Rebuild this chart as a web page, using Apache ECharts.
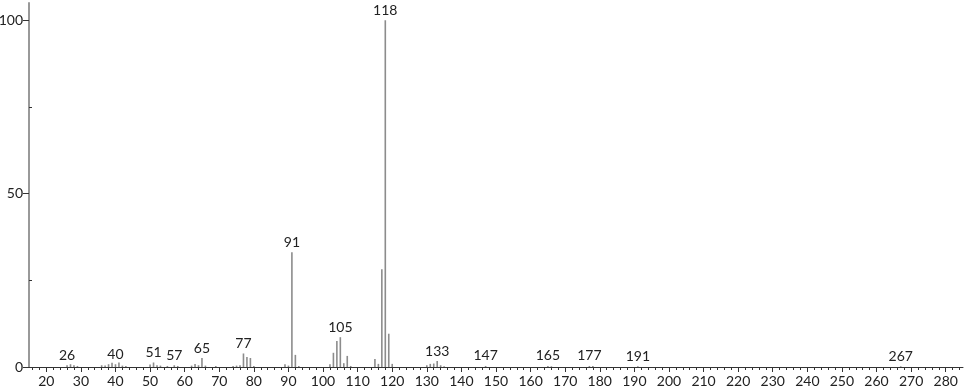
<!DOCTYPE html>
<html>
<head>
<meta charset="utf-8">
<script src="https://cdn.jsdelivr.net/npm/echarts@6/dist/echarts.min.js"></script>
<style>html,body{margin:0;padding:0;background:#fff}#c{width:966px;height:389px}</style>
</head>
<body>
<div id="c"></div>
<script>
// m/z values and relative intensities
const masses = [26, 27, 28, 29, 36, 37, 38, 39, 40, 41, 42, 43, 50, 51, 52, 53, 55, 57, 58, 62, 63, 64, 65, 66, 69, 74, 75, 76, 77, 78, 79, 80, 89, 90, 91, 92, 93, 102, 103, 104, 105, 106, 107, 108, 115, 116, 117, 118, 119, 120, 130, 131, 132, 133, 134, 135, 147, 165, 166, 177, 178, 191, 267];
const intensities = [0.5, 0.8, 0.5, 0.3, 0.5, 0.4, 0.8, 1.2, 0.8, 1.3, 0.4, 0.3, 0.7, 1.3, 0.5, 0.4, 0.3, 0.5, 0.3, 0.4, 0.9, 0.5, 2.6, 0.4, 0.3, 0.3, 0.4, 0.5, 3.9, 2.9, 2.6, 0.3, 0.8, 0.4, 33.1, 3.5, 0.3, 0.8, 4.1, 7.5, 8.6, 1.1, 3.2, 0.3, 2.3, 0.9, 28.2, 100, 9.6, 0.9, 0.5, 0.9, 1.0, 1.7, 0.5, 0.2, 0.3, 0.3, 0.2, 0.3, 0.3, 0.2, 0.2];
const labeledPeaks = [26, 40, 51, 57, 65, 77, 91, 105, 118, 133, 147, 165, 177, 191, 267];
const xTickLabels = [20, 30, 40, 50, 60, 70, 80, 90, 100, 110, 120, 130, 140, 150, 160, 170, 180, 190, 200, 210, 220, 230, 240, 250, 260, 270, 280];
const yTickLabels = [0, 50, 100];
const yMinorTicks = [25, 75];

const xMinor = [];
for (let v = 16; v <= 284; v += 2) if (v % 10 !== 0) xMinor.push(v);

const FONT = 'Lato';
const data = masses.map((m, i) => ({
  value: [m, intensities[i]],
  label: { show: labeledPeaks.includes(m) }
}));

const chart = echarts.init(document.getElementById('c'));
chart.setOption({
  animation: false,
  grid: { left: 29, right: 3, top: 3, bottom: 22, containLabel: false, outerBoundsMode: 'none' },
  xAxis: [{
    type: 'value', min: 15, max: 285,
    axisLine: { show: true, lineStyle: { color: '#333', width: 1 } },
    axisTick: { show: true, customValues: xTickLabels, length: 5, lineStyle: { color: '#333' } },
    axisLabel: { show: true, customValues: xTickLabels, margin: 7, color: '#222', fontFamily: FONT, fontSize: 14 },
    splitLine: { show: false }
  }, {
    type: 'value', min: 15, max: 285, position: 'bottom',
    axisLine: { show: false },
    axisTick: { show: true, customValues: xMinor, length: 3, lineStyle: { color: '#333' } },
    axisLabel: { show: false },
    splitLine: { show: false }
  }],
  yAxis: [{
    type: 'value', min: 0, max: 105,
    axisLine: { show: true, lineStyle: { color: '#999', width: 2 } },
    axisTick: { show: true, customValues: yTickLabels, length: 6, lineStyle: { color: '#333' } },
    axisLabel: { show: true, customValues: yTickLabels, margin: 6, color: '#222', fontFamily: FONT, fontSize: 14 },
    splitLine: { show: false }
  }, {
    type: 'value', min: 0, max: 105, position: 'left',
    axisLine: { show: false },
    axisTick: { show: true, inside: true, customValues: yMinorTicks, length: 3, lineStyle: { color: '#333' } },
    axisLabel: { show: false },
    splitLine: { show: false }
  }],
  series: [{
    type: 'bar',
    xAxisIndex: 0, yAxisIndex: 0,
    barWidth: 1.6,
    itemStyle: { color: '#8c8c8c' },
    label: { position: 'top', distance: 3, formatter: p => String(p.value[0]), color: '#222', fontFamily: FONT, fontSize: 14 },
    data: data
  }]
});
</script>
</body>
</html>
